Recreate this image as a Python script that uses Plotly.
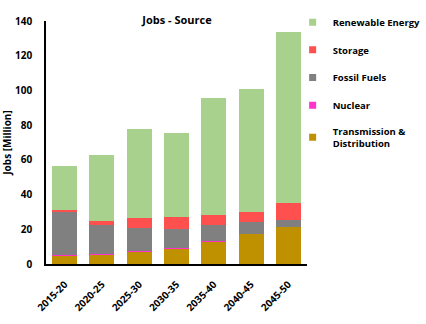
import plotly.graph_objects as go

periods = ["2015-20", "2020-25", "2025-30", "2030-35", "2035-40", "2040-45", "2045-50"]
td = [5.0, 5.4, 7.2, 9.2, 13.2, 17.3, 21.5]
nuclear = [0.4, 0.5, 0.4, 0.1, 0.1, 0.1, 0.1]
fossil = [24.7, 16.6, 12.9, 10.9, 9.0, 6.6, 3.7]
storage = [0.8, 2.3, 6.0, 6.7, 5.7, 5.8, 9.7]
renewable = [25.6, 38.0, 51.3, 48.4, 67.8, 70.8, 98.8]

series = [
    ("Transmission &<br>Distribution", td, "#BF9000"),
    ("Nuclear", nuclear, "#FF33CC"),
    ("Fossil Fuels", fossil, "#808080"),
    ("Storage", storage, "#FF5050"),
    ("Renewable Energy", renewable, "#A9D18E"),
]

font_family = "Open Sans"
fig = go.Figure()
for name, vals, color in series:
    fig.add_trace(go.Bar(x=periods, y=vals, name=name, marker_color=color,
                         marker_line_width=0, showlegend=False))
for i, (name, vals, color) in enumerate(reversed(series)):
    fig.add_trace(go.Scatter(x=[None], y=[None], mode="markers", name="<b>" + name + "</b>",
                             marker=dict(symbol="square", size=7, color=color),
                             legendgroup="g%d" % i, showlegend=True))

fig.update_layout(
    barmode="stack",
    bargap=0.33,
    width=426, height=324,
    margin=dict(l=46, r=119, t=21, b=60, autoexpand=False),
    plot_bgcolor="white", paper_bgcolor="white",
    font=dict(family=font_family, size=10, color="black"),
    title=dict(text="<b>Jobs - Source</b>", x=(177) / 426, xanchor="center",
               y=1 - 20 / 324, yanchor="middle", font=dict(size=11)),
    legend=dict(traceorder="grouped", x=0.945, xanchor="left", y=1.055, yanchor="top",
                font=dict(size=9.5), tracegroupgap=8.7, itemwidth=30,
                bgcolor="rgba(0,0,0,0)"),
    showlegend=True,
)
fig.update_yaxes(range=[0, 140], dtick=20, showgrid=False, zeroline=False,
                 showline=True, linecolor="black", linewidth=1.5,
                 ticks="outside", ticklen=10, tickcolor="rgba(0,0,0,0)",
                 tickfont=dict(size=10), tickprefix="<b>", ticksuffix="</b>",
                 title=dict(text="<b>Jobs [Million]</b>", font=dict(size=10), standoff=6))
fig.update_xaxes(showgrid=False, showline=True, linecolor="black", linewidth=1.5,
                 tickangle=-45, tickfont=dict(size=10), tickprefix="<b>", ticksuffix="</b>",
                 ticks="outside", ticklen=9, tickcolor="rgba(0,0,0,0)")
fig.write_html("out.html")
